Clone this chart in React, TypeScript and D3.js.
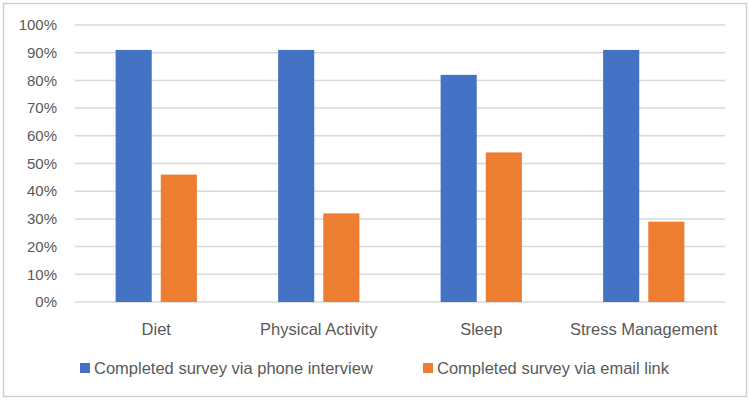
import * as d3 from "d3";
import { useEffect, useRef } from "react";

const categories = ["Diet", "Physical Activity", "Sleep", "Stress Management"];
const seriesNames = [
  "Completed survey via phone interview",
  "Completed survey via email link",
];
const phoneValues = [91, 91, 82, 91];
const emailValues = [46, 32, 54, 29];
const yTicks = [0, 10, 20, 30, 40, 50, 60, 70, 80, 90, 100];

const colors = ["#4472C4", "#ED7D31"];

export default function App() {
  const ref = useRef<SVGSVGElement | null>(null);

  useEffect(() => {
    const el = ref.current;
    if (!el) return;
    const svg = d3.select(el);
    svg.selectAll("*").remove();

    const W = 750;
    const H = 400;
    const left = 75;
    const right = 725;
    const top = 25;
    const bottom = 302;
    const font = "'Liberation Sans', Arial, sans-serif";
    const textColor = "#595959";

    // chart frame
    svg
      .append("rect")
      .attr("x", 3.5)
      .attr("y", 3.5)
      .attr("width", W - 7)
      .attr("height", H - 7)
      .attr("fill", "#fff")
      .attr("stroke", "#d0d0d0")
      .attr("stroke-width", 1.5);

    const x0 = d3.scaleBand().domain(categories).range([left, right]);
    const x1 = d3
      .scaleBand()
      .domain(seriesNames)
      .range([0, x0.bandwidth()])
      .paddingInner(0.2)
      .paddingOuter(0.9);
    const y = d3.scaleLinear().domain([0, 100]).range([bottom, top]);

    // gridlines + y labels
    const grid = svg.append("g");
    grid
      .selectAll("line")
      .data(yTicks)
      .join("line")
      .attr("x1", left)
      .attr("x2", right)
      .attr("y1", (d) => y(d))
      .attr("y2", (d) => y(d))
      .attr("stroke", "#d9d9d9")
      .attr("stroke-width", 1.5);
    grid
      .selectAll("text")
      .data(yTicks)
      .join("text")
      .attr("x", 57)
      .attr("y", (d) => y(d))
      .attr("dy", "0.35em")
      .attr("text-anchor", "end")
      .attr("font-family", font)
      .attr("font-size", 15)
      .attr("fill", textColor)
      .text((d) => `${d}%`);

    const rows = categories.map((c, i) => ({
      cat: c,
      vals: [phoneValues[i], emailValues[i]],
    }));

    const groups = svg
      .append("g")
      .selectAll("g")
      .data(rows)
      .join("g")
      .attr("transform", (d) => `translate(${x0(d.cat)},0)`);

    groups
      .selectAll("rect")
      .data((d) => d.vals.map((v, k) => ({ v, k })))
      .join("rect")
      .attr("x", (d) => x1(seriesNames[d.k]) ?? 0)
      .attr("width", x1.bandwidth())
      .attr("y", (d) => y(d.v))
      .attr("height", (d) => bottom - y(d.v))
      .attr("fill", (d) => colors[d.k]);

    // category labels
    svg
      .append("g")
      .selectAll("text")
      .data(categories)
      .join("text")
      .attr("x", (d) => (x0(d) ?? 0) + x0.bandwidth() / 2)
      .attr("y", 335)
      .attr("text-anchor", "middle")
      .attr("font-family", font)
      .attr("font-size", 16.5)
      .attr("fill", textColor)
      .text((d) => d);

    // legend
    const legendX = [80, 423];
    const legend = svg
      .append("g")
      .selectAll("g")
      .data(seriesNames)
      .join("g")
      .attr("transform", (_, i) => `translate(${legendX[i]},368)`);
    legend
      .append("rect")
      .attr("x", 0)
      .attr("y", -5)
      .attr("width", 10)
      .attr("height", 10)
      .attr("fill", (_, i) => colors[i]);
    legend
      .append("text")
      .attr("x", 14)
      .attr("y", 0)
      .attr("dy", "0.35em")
      .attr("font-family", font)
      .attr("font-size", 16.5)
      .attr("fill", textColor)
      .text((d) => d);
  }, []);

  return (
    <svg
      ref={ref}
      width={750}
      height={400}
      style={{ display: "block", position: "absolute", left: 0, top: 0 }}
    />
  );
}
